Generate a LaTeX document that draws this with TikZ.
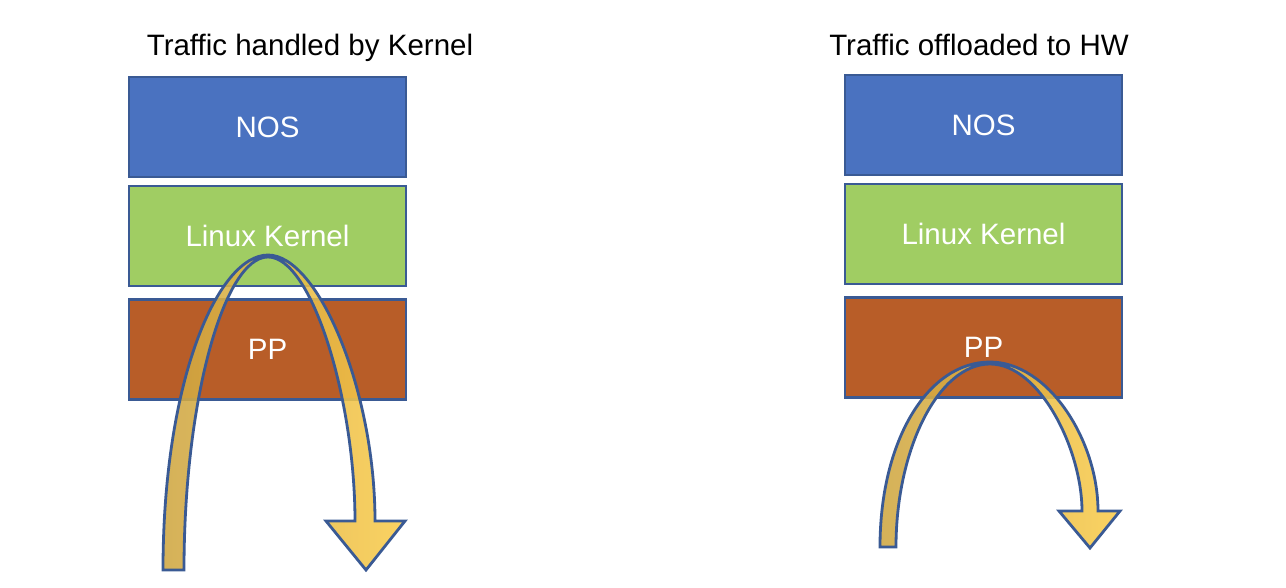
\documentclass[tikz,border=0pt]{standalone}
\usepackage{fontspec}
\setmainfont{Liberation Sans}
\definecolor{nosblue}{RGB}{74,114,192}
\definecolor{kgreen}{RGB}{160,205,99}
\definecolor{ppbrown}{RGB}{184,93,40}
\definecolor{edgeblue}{RGB}{58,90,148}
\definecolor{goldL}{RGB}{206,166,66}
\definecolor{goldR}{RGB}{250,204,76}
\begin{document}
\begin{tikzpicture}[x=1pt,y=-1pt,
  layer/.style={draw=edgeblue,line width=2.2pt,minimum width=277pt,minimum height=100pt,inner sep=0pt,text=white,font=\fontsize{29.5}{35}\selectfont},
  title/.style={anchor=base,font=\fontsize{29.5}{35}\selectfont},
  flow/.style={draw=edgeblue,line width=2.8pt,line join=miter,left color=goldL,right color=goldR,fill opacity=0.88,draw opacity=1}]
\useasboundingbox (0,0) rectangle (1286,587);
% left stack
\node[title] (t1) at (310,55) {Traffic handled by Kernel};
\node[layer,fill=nosblue] (nos1) at (267.5,127) {NOS};
\node[layer,fill=kgreen] (lk1) at (267.5,236) {Linux Kernel};
\node[layer,fill=ppbrown] (pp1) at (267.5,349.5) {PP};
% right stack
\node[title] (t2) at (979,55) {Traffic offloaded to HW};
\node[layer,fill=nosblue] (nos2) at (983.5,125) {NOS};
\node[layer,fill=kgreen] (lk2) at (983.5,234) {Linux Kernel};
\node[layer,fill=ppbrown] (pp2) at (983.5,347.5) {PP};
% left arrow
\path[flow] (163,570) .. controls (163,380) and (218,255) .. (268,255)
  .. controls (318,255) and (375,390) .. (375,521)
  -- (405,521) -- (366,570) -- (326,521) -- (355,521)
  .. controls (355,400) and (312,257) .. (268,257)
  .. controls (224,257) and (184,400) .. (184,570) -- cycle;
% right arrow
\path[flow] (880,547) .. controls (880,440) and (928,362) .. (990,362)
  .. controls (1048,362) and (1098,440) .. (1098,511)
  -- (1120,511) -- (1090,548) -- (1059,511) -- (1082,511)
  .. controls (1082,450) and (1040,364) .. (990,364)
  .. controls (938,364) and (896,450) .. (896,547) -- cycle;
\end{tikzpicture}
\end{document}
